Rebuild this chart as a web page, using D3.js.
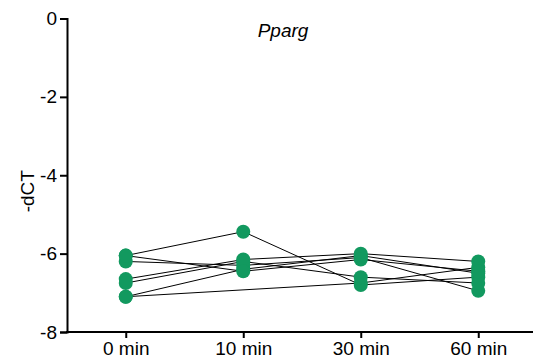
<!DOCTYPE html>
<html>
<head>
<meta charset="utf-8">
<script src="https://cdn.jsdelivr.net/npm/d3@7"></script>
<style>
  body { margin: 0; background: #fff; }
  text { font-family: "Liberation Sans", Arial, sans-serif; }
</style>
</head>
<body>
<div id="container"></div>
<script>
/* ---------- DATA ---------- */
const timepoints = ["0 min", "10 min", "30 min", "60 min"];
const yTicks = [0, -2, -4, -6, -8];
// one row per sample, -dCT at each timepoint (null = missing)
const s1 = [-6.05, -5.44, -6.80, -6.60];
const s2 = [-7.10, null, -6.75, -6.35];
const s3 = [-7.10, -6.40, -6.05, -6.50];
const s4 = [-6.20, -6.30, -6.10, -6.95];
const s5 = [-6.65, -6.15, -6.00, -6.20];
const s6 = [-6.75, -6.20, -6.60, -6.75];
const s7 = [-6.05, -6.45, -6.15, -6.45];
const samples = [s1, s2, s3, s4, s5, s6, s7];

/* ---------- CONSTANTS ---------- */
const width = 533,
  height = 363,
  margin = { top: 18.5, bottom: 31, left: 67, right: -4 },
  green = "#12995f";

const svg = d3.select("#container")
  .append("svg")
  .attr("width", width)
  .attr("height", height);

// + SCALES
const xScale = d3.scalePoint()
  .domain(timepoints)
  .range([margin.left, width - margin.right])
  .padding(0.5);

const yScale = d3.scaleLinear()
  .domain([-8, 0])
  .range([height - margin.bottom, margin.top]);

// + AXES
const xAxis = d3.axisBottom(xScale).tickSizeOuter(0).tickSize(6).tickPadding(4);
const yAxis = d3.axisLeft(yScale)
  .tickValues(yTicks)
  .tickFormat(d => String(d)) // plain hyphen, not unicode minus
  .tickSizeOuter(0).tickSize(7).tickPadding(3);

const gx = svg.append("g")
  .attr("transform", `translate(0,${height - margin.bottom})`)
  .call(xAxis);

const gy = svg.append("g")
  .attr("transform", `translate(${margin.left},0)`)
  .call(yAxis);

[gx, gy].forEach(g => {
  g.select(".domain").attr("stroke", "#000").attr("stroke-width", 2);
  g.selectAll(".tick line").attr("stroke", "#000").attr("stroke-width", 2);
  g.selectAll(".tick text")
    .attr("fill", "#000")
    .style("font-size", "19px")
    .style("font-family", "'Liberation Sans', Arial, sans-serif");
});
// extend x domain line to the y axis
gx.select(".domain").attr("d", `M${margin.left - 1},0H${width + 10}`);

// + LABELS
svg.append("text")
  .attr("x", 283)
  .attr("y", 37)
  .attr("text-anchor", "middle")
  .style("font-size", "19px")
  .style("font-style", "italic")
  .text("Pparg");

svg.append("text")
  .attr("transform", `translate(34,${(yScale(0) + yScale(-8)) / 2 + 16}) rotate(-90)`)
  .attr("text-anchor", "middle")
  .style("font-size", "19px")
  .text("-dCT");

// + LINES
const line = d3.line()
  .x(d => xScale(d.t))
  .y(d => yScale(d.v));

const rows = samples.map(s => s.map((v, i) => ({ t: timepoints[i], v })).filter(d => d.v !== null));

svg.append("g")
  .selectAll("path")
  .data(rows)
  .join("path")
  .attr("d", line)
  .attr("fill", "none")
  .attr("stroke", "#000")
  .attr("stroke-width", 1);

// + POINTS
svg.append("g")
  .selectAll("circle")
  .data(rows.flat())
  .join("circle")
  .attr("cx", d => xScale(d.t))
  .attr("cy", d => yScale(d.v))
  .attr("r", 7)
  .attr("fill", green);
</script>
</body>
</html>
